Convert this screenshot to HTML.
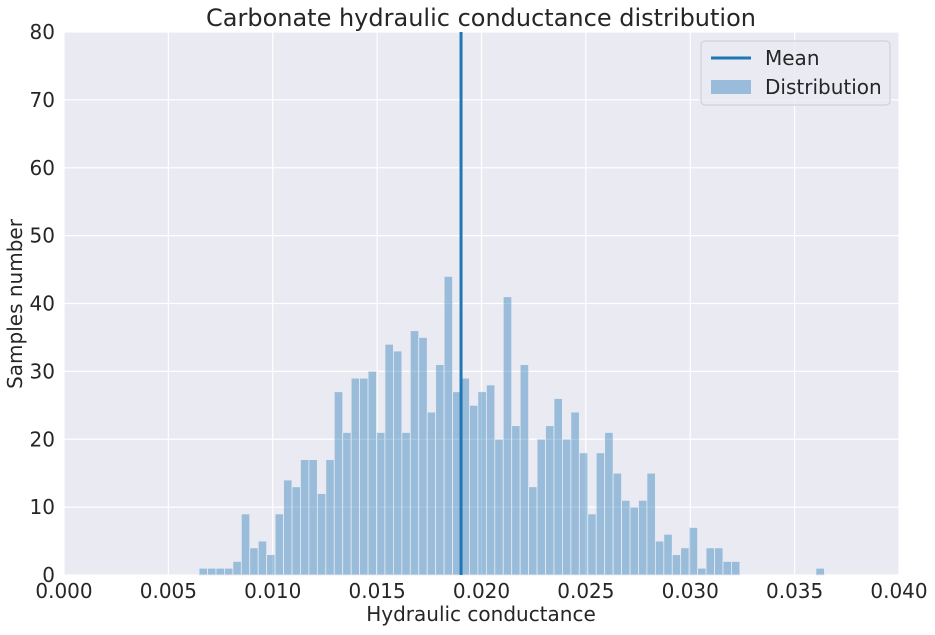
<!DOCTYPE html>
<html><head><meta charset="utf-8"><style>
body{margin:0;background:#fff;font-family:"DejaVu Sans","Liberation Sans",sans-serif}
</style></head><body>
<svg width="935" height="631" xmlns="http://www.w3.org/2000/svg" font-family="DejaVu Sans, Liberation Sans, sans-serif">
<rect x="64" y="32" width="835" height="543" fill="#eaeaf2"/>
<g id="grid"></g>
<g id="bars"></g>
<g id="ticks"></g>
<text x="481" y="26" text-anchor="middle" font-size="24" fill="#262626">Carbonate hydraulic conductance distribution</text>
<text x="481" y="621" text-anchor="middle" font-size="20" fill="#262626">Hydraulic conductance</text>
<text x="22" y="304" text-anchor="middle" font-size="20" fill="#262626" transform="rotate(-90 22 304)">Samples number</text>
<g>
<rect x="701" y="41" width="189" height="64" rx="4" fill="#eaeaf2" stroke="#cccccc" fill-opacity="0.8"/>
<line x1="711" y1="58" x2="751" y2="58" stroke="#1f77b4" stroke-width="3"/>
<text x="765" y="65" font-size="20" fill="#262626">Mean</text>
<rect x="711" y="80" width="40" height="14" fill="#1f77b4" fill-opacity="0.4"/>
<text x="765" y="94" font-size="20" fill="#262626">Distribution</text>
</g>
</svg>
<script>
const counts=[1,1,1,1,2,9,4,5,3,9,14,13,17,17,12,17,27,21,29,29,30,21,34,33,21,36,35,24,31,44,27,29,25,27,28,20,41,22,31,13,20,22,26,20,24,18,9,18,21,15,11,10,11,15,5,6,3,4,7,1,4,4,2,2,0,0,0,0,0,0,0,0,0,1];
const binStart=0.00647;
const binWidth=0.0004048;
const meanValue=0.01902;
const xTicks=[0,0.005,0.010,0.015,0.020,0.025,0.030,0.035,0.040];
const xTickLabels=["0.000","0.005","0.010","0.015","0.020","0.025","0.030","0.035","0.040"];
const yTicks=[0,10,20,30,40,50,60,70,80];
const NS="http://www.w3.org/2000/svg";
const X=v=>64+v/0.04*835, Y=v=>575-v/80*543;
const grid=document.getElementById('grid'),bars=document.getElementById('bars'),ticks=document.getElementById('ticks');
function mk(tag,attrs,parent){const e=document.createElementNS(NS,tag);for(const k in attrs)e.setAttribute(k,attrs[k]);parent.appendChild(e);return e;}
xTicks.forEach((t,i)=>{
 const g=mk('line',{x1:X(t),x2:X(t),y1:32,y2:575,stroke:'#fff','stroke-width':1.2},grid);
 
 
 const tx=mk('text',{x:X(t),y:598,'text-anchor':'middle','font-size':20,fill:'#262626'},ticks);
 tx.textContent=xTickLabels[i];
 
 
});
yTicks.forEach(t=>{
 const g=mk('line',{x1:64,x2:899,y1:Y(t),y2:Y(t),stroke:'#fff','stroke-width':1.2},grid);
 
 
 const tx=mk('text',{x:55,y:Y(t)+7,'text-anchor':'end','font-size':20,fill:'#262626'},ticks);
 tx.textContent=t;
 
 
});
counts.forEach((c,i)=>{
 if(!c)return;
 const x0=X(binStart+i*binWidth),x1=X(binStart+(i+1)*binWidth);
 const r=mk('rect',{x:x0,y:Y(c),width:x1-x0,height:Y(0)-Y(c),fill:'#1f77b4','fill-opacity':0.4,stroke:'#eaeaf2','stroke-width':0.8},bars);
 
 
});
const m=mk('line',{x1:X(meanValue),x2:X(meanValue),y1:32,y2:575,stroke:'#1f77b4','stroke-width':3},bars);


</script>
</body></html>
